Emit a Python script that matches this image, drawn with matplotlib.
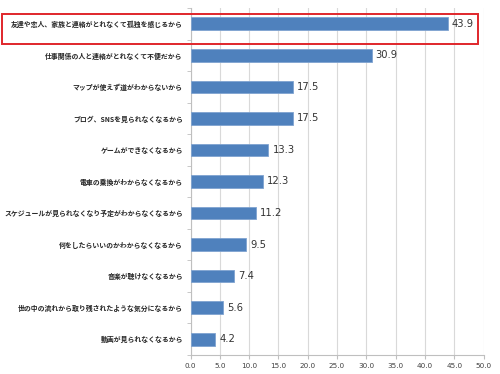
import matplotlib
matplotlib.use("Agg")
import matplotlib.pyplot as plt
from matplotlib.patches import Rectangle

plt.rcParams['font.family'] = ['Noto Sans CJK JP', 'DejaVu Sans']

categories = [
    "友達や恋人、家族と連絡がとれなくて孤独を感じるから",
    "仕事関係の人と連絡がとれなくて不便だから",
    "マップが使えず道がわからないから",
    "ブログ、SNSを見られなくなるから",
    "ゲームができなくなるから",
    "電車の乗換がわからなくなるから",
    "スケジュールが見られなくなり予定がわからなくなるから",
    "何をしたらいいのかわからなくなるから",
    "音楽が聴けなくなるから",
    "世の中の流れから取り残されたような気分になるから",
    "動画が見られなくなるから",
]
values = [43.9, 30.9, 17.5, 17.5, 13.3, 12.3, 11.2, 9.5, 7.4, 5.6, 4.2]
xticks = [0, 5, 10, 15, 20, 25, 30, 35, 40, 45, 50]

W, H = 500, 374
fig = plt.figure(figsize=(W/100, H/100), dpi=100)
ax = fig.add_axes([190.5/W, 1-355/H, (483.5-190.5)/W, (355-8)/H])

y = list(range(len(categories)))
ax.barh(y, values, height=0.4, color='#4F81BD', edgecolor='#7FA3D0', linewidth=0.6, zorder=3)
ax.set_ylim(len(categories)-0.5, -0.5)
ax.set_xlim(0, 50)
ax.set_xticks(xticks)
ax.set_xticklabels([f"{v:.1f}" for v in xticks], fontsize=5.2, color='#404040', family=['DejaVu Sans'])
ax.set_yticks(y)
ax.set_yticklabels(categories, fontsize=4.95, fontweight='bold', color='#262626')
ax.tick_params(axis='y', length=0, pad=5.5)
ax.tick_params(axis='x', length=3, color='#BFBFBF', pad=3)
ax.set_yticks([i+0.5 for i in range(-1, len(categories))], minor=True)
ax.tick_params(axis='y', which='minor', length=3, color='#BFBFBF')
ax.grid(axis='x', color='#D9D9D9', linewidth=0.8, zorder=0)
for s in ['top', 'right']:
    ax.spines[s].set_visible(False)
for s in ['left', 'bottom']:
    ax.spines[s].set_color('#BFBFBF')
    ax.spines[s].set_linewidth(0.8)

for yi, v in zip(y, values):
    ax.text(v + 0.7, yi, f"{v:.1f}", va='center', ha='left', fontsize=7.2,
            color='#333333', family=['DejaVu Sans'], zorder=4)

# highlight box
fig.add_artist(Rectangle((2/W, 1-44/H), (478-2)/W, (44-14)/H, transform=fig.transFigure,
                         fill=False, edgecolor='#E0262B', linewidth=1.4))

fig.savefig("out.png", dpi=100)
